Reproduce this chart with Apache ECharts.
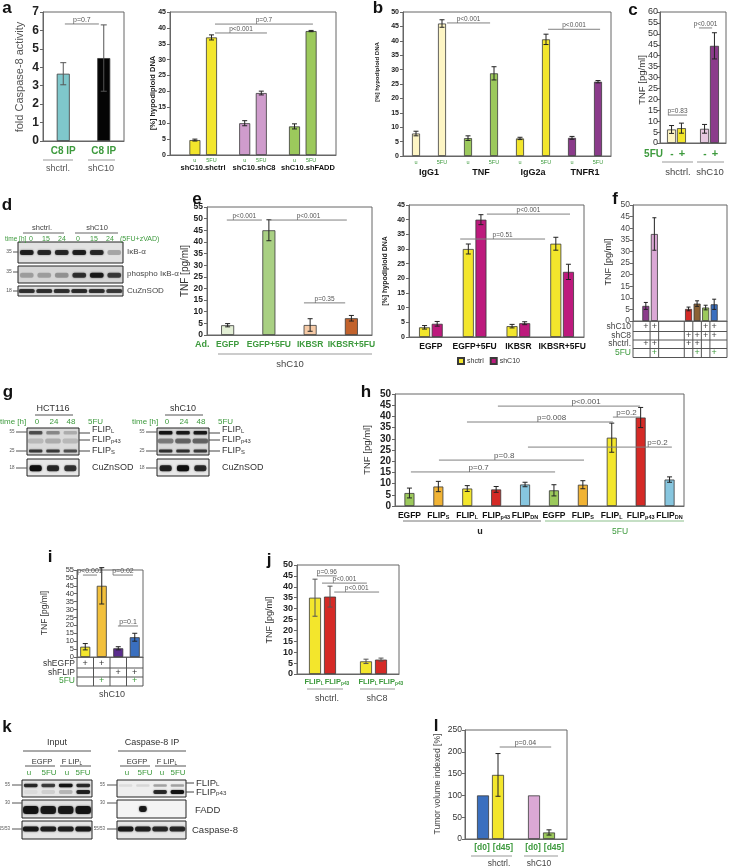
<!DOCTYPE html>
<html><head><meta charset="utf-8">
<script src="https://cdn.jsdelivr.net/npm/echarts@6/dist/echarts.min.js"></script>
<style>html,body{margin:0;padding:0;background:#fff}#c{width:729px;height:867px}</style>
</head><body><div id="c"></div>
<script>
// ================= DATA =================
// panel a (caspase-8 activity)
const aCats = ['C8 IP', 'C8 IP'];
const aVals = [3.65, 4.5];
const aErr = [0.6, 1.8];
const aGroups = ['shctrl.', 'shC10'];
const aBrackets = [[0.04, 0.88, 6.35, 'p=0.7']];
// panel a (hypodiploid DNA)
const a2Cats = ['', 'u', '5FU', '', 'u', '5FU', '', 'u', '5FU', ''];
const a2Vals = [null, 4.7, 37, null, 10, 19.5, null, 9, 39, null];
const a2Err = [null, 0.3, 0.8, null, 0.8, 0.6, null, 0.8, 0.2, null];
const a2Groups = ['shC10.shctrl', 'shC10.shC8', 'shC10.shFADD'];
const a2Brackets = [[2.21, 5.34, 38.4, 'p<0.001'], [2.21, 8.11, 41.2, 'p=0.7']];
// panel b
const bCats = ['u', '5FU', 'u', '5FU', 'u', '5FU', 'u', '5FU'];
const bVals = [7.8, 46, 6.2, 28.7, 6.1, 40.5, 6.3, 25.8];
const bErr = [0.8, 1.3, 0.8, 2.3, 0.4, 1.8, 0.5, 0.4];
const bGroups = ['IgG1', 'TNF', 'IgG2a', 'TNFR1'];
const bBrackets = [[1.19, 2.85, 46.2, 'p<0.001'], [5.08, 7.08, 44, 'p<0.001']];
// panel c
const cGroups = ['shctrl.', 'shC10'];
const cMinus = [6.2, 6.5];
const cMinusErr = [1.8, 2.0];
const cPlus = [6.8, 44.5];
const cPlusErr = [2.3, 6.0];
const cBrackets = [[-0.26, 0.32, 12.8, 'p=0.83'], [0.68, 1.08, 52.7, 'p<0.001']];
// panel d (blot band intensities, 6 lanes)
const dGroups = ['shctrl.', 'shC10'];
const dTimes = ['0', '15', '24', '0', '15', '24'];
const dIkB = [0.85, 0.8, 0.8, 0.85, 0.8, 0.25];
const dPIkB = [0.25, 0.25, 0.3, 0.75, 0.9, 0.7];
const dSOD = [0.75, 0.75, 0.75, 0.78, 0.75, 0.7];
// panel e left
const e1Cats = ['EGFP', 'EGFP+5FU', 'IKBSR', 'IKBSR+5FU'];
const e1Vals = [4.2, 45, 4.3, 7.2];
const e1Err = [0.7, 4.5, 2.7, 1.2];
const e1Brackets = [[-0.02, 0.83, 49.4, 'p<0.001'], [1.03, 2.89, 49.4, 'p<0.001'], [1.85, 2.85, 13.8, 'p=0.35']];
// panel e right
const e2Cats = ['EGFP', 'EGFP+5FU', 'IKBSR', 'IKBSR+5FU'];
const e2Shctrl = [3.3, 30, 3.7, 31.8];
const e2ShctrlErr = [0.6, 1.7, 0.6, 2.2];
const e2ShC10 = [4.5, 40, 4.7, 22.2];
const e2ShC10Err = [0.8, 1.7, 0.5, 2.6];
const e2Brackets = [[1.28, 3.18, 41.9, 'p<0.001'], [0.67, 2.61, 33.4, 'p=0.51']];
// panel f
const fCats = ['', 'c1', 'c2', '', '', '', 'c3', 'c4', 'c5', 'c6', ''];
const fVals = [null, 6.5, 37.5, null, null, null, 5.2, 7.5, 5.8, 7.2, null];
const fErr = [null, 1.5, 7, null, null, null, 0.8, 1.2, 1.0, 2.2, null];
const fRows = ['shC10', 'shC8', 'shctrl.', '5FU'];
const fTable = [
  [0, 1, 1, 0, 0, 0, 0, 0, 1, 1, 0],
  [0, 0, 0, 0, 0, 0, 1, 1, 1, 1, 0],
  [0, 1, 1, 0, 0, 0, 1, 1, 0, 0, 0],
  [0, 0, 1, 0, 0, 0, 0, 1, 0, 1, 0]];
// panel g (blots, 3 lanes)
const gTimes = ['0', '24', '48'];
const gHctFlipL = [0.6, 0.35, 0.2];
const gHctP43 = [0.15, 0.2, 0.15];
const gHctFlipS = [0.7, 0.7, 0.6];
const gHctSOD = [1.0, 0.8, 0.75];
const gC10FlipL = [0.95, 0.9, 0.9];
const gC10P43 = [0.4, 0.5, 0.5];
const gC10FlipS = [0.75, 0.75, 0.7];
const gC10SOD = [0.85, 1.0, 0.8];
// panel h
const hCats = ['EGFP', 'FLIPS', 'FLIPL', 'FLIPp43', 'FLIPDN', 'EGFP', 'FLIPS', 'FLIPL', 'FLIPp43', 'FLIPDN'];
const hVals = [5.8, 8.7, 7.8, 7.4, 9.6, 7.0, 9.5, 30.5, 39.5, 11.8];
const hErr = [2.2, 2.3, 1.3, 1.3, 1.0, 2.5, 1.8, 6.5, 4.5, 1.2];
const hBrackets = [
  [0.05, 5.04, 15.2, 'p=0.7', 0.47], [1.02, 6.04, 20.5, 'p=0.8', 0.45],
  [4.10, 9.08, 26.3, 'p=0.2', 0.9], [1.99, 7.04, 37.5, 'p=0.008', 0.58],
  [3.06, 7.98, 44.6, 'p<0.001', 0.62], [7.04, 7.98, 39.7, 'p=0.2', 0.5]];
// panel i
const iCats = ['1', '2', '3', '4'];
const iVals = [6.5, 45, 5.5, 12.5];
const iErr = [2, 11.5, 1, 2.5];
const iRows = ['shEGFP', 'shFLIP', '5FU'];
const iTable = [[1, 1, 0, 0], [0, 0, 1, 1], [0, 1, 0, 1]];
const iBrackets = [[-0.14, 0.71, 51.8, 'p<0.001'], [1.68, 2.89, 51.8, 'p=0.02'], [1.98, 3.2, 19.6, 'p=0.1']];
// panel j
const jGroups = ['shctrl.', 'shC8'];
const jFlipL = [35, 5.8];
const jFlipLErr = [8.5, 1.0];
const jP43 = [35.5, 6.6];
const jP43Err = [4.8, 0.7];
const jBrackets = [[-0.11, 0.28, 45, 'p=0.96'], [-0.01, 0.87, 41.7, 'p<0.001'], [0.23, 1.11, 37.6, 'p<0.001']];
// panel k (blots, 4 lanes)
const kInFlipL = [0.8, 0.7, 0.95, 0.8];
const kInP43 = [0.05, 0.1, 0.2, 0.85];
const kInFADD = [0.95, 0.9, 0.9, 0.95];
const kInC8 = [0.9, 0.85, 0.85, 0.9];
const kIpFlipL = [0.08, 0.1, 0.3, 0.3];
const kIpP43 = [0, 0, 0.8, 0.95];
const kIpFADD = [0, 0.9, 0, 0];
const kIpC8 = [0.9, 0.85, 0.8, 0.8];
// panel l
const lGroups = ['shctrl.', 'shC10'];
const lD0 = [100, 100];
const lD45 = [147, 15];
const lD45Err = [49, 6];
const lBrackets = [[0.18, 1.19, 211, 'p=0.04']];

// ================= STYLE / BUILD =================
const FONT = 'Arial, "Liberation Sans", sans-serif';
const GREEN = '#3d9a3d';
const C = {
  cyan: '#7fc7cb', yellow: '#f3e62c', lyellow: '#fdf5c4', pink: '#cf9ccc', green: '#9cc95c',
  purple: '#8b3b8b', magenta: '#bd1a7d', red: '#d52a26', orange: '#f1b334', lblue: '#87c6df',
  blue: '#3a6fbf', brown: '#8c6234', e1a: '#e3efd5', e1b: '#a9d083', e1c: '#f6caa6', e1d: '#c2622c',
  iorange: '#f2c03c', ipurple: '#5b2d8e', lpink: '#dba8d5', lpink2: '#e6c9e0'
};
const grids = [], xAxes = [], yAxes = [], series = [], G = [];

function T(x, y, text, o = {}) {
  G.push({type: 'text', x, y, rotation: o.rot || 0, z: 50, silent: true,
    style: {text, fill: o.color || '#333', fontSize: o.size || 9, fontWeight: o.bold ? 'bold' : 'normal',
      fontFamily: FONT, align: o.align || 'center', verticalAlign: 'middle', rich: o.rich}});
}
function SUB(x, y, base, sub, o = {}) {
  const s = o.size || 9;
  T(x, y, '{a|' + base + '}{s|' + sub + '}', Object.assign({}, o, {rich: {
    a: {fontSize: s, fontWeight: o.bold ? 'bold' : 'normal', fill: o.color || '#333', fontFamily: FONT},
    s: {fontSize: s * 0.65, fontWeight: o.bold ? 'bold' : 'normal', fill: o.color || '#333', fontFamily: FONT, padding: [s * 0.35, 0, 0, 0]}}}));
}
function L(x1, y1, x2, y2, color, w) {
  G.push({type: 'line', z: 49, silent: true, shape: {x1, y1, x2, y2}, style: {stroke: color || '#777', lineWidth: w || 1}});
}
function panel(o) {
  const gi = grids.length;
  const bc = o.border || '#555';
  grids.push({left: o.l, top: o.t, width: o.w, height: o.h, show: true, borderColor: bc, borderWidth: 1});
  xAxes.push({gridIndex: gi, type: 'category', data: o.cats, axisTick: {show: false},
    axisLine: {show: true, lineStyle: {color: bc}},
    axisLabel: o.xLab ? Object.assign({interval: 0, fontFamily: FONT, margin: 4, hideOverlap: false}, o.xLab) : {show: false}});
  yAxes.push({gridIndex: gi, type: 'value', min: 0, max: o.max, interval: o.int, splitLine: {show: false},
    axisLine: {show: true, lineStyle: {color: bc}},
    axisTick: {show: true, length: 3, lineStyle: {color: bc}},
    axisLabel: Object.assign({fontFamily: FONT, margin: 4, color: '#222', hideOverlap: false}, o.yLab)});
  return gi;
}
function bars(gi, vals, colors, o = {}) {
  const uni = typeof colors === 'string';
  series.push({type: 'bar', name: o.name, xAxisIndex: gi, yAxisIndex: gi, barWidth: o.bw, barGap: o.gap || '0%', z: 2, silent: true,
    itemStyle: Object.assign({borderColor: '#3a3a3a', borderWidth: 0.8}, uni ? {color: colors} : {}),
    data: vals.map((v, i) => v == null ? '-' : (uni ? v : {value: v, itemStyle: {color: colors[i]}}))});
}
function errs(gi, vals, er, o = {}) {
  const off = o.off || 0, col = o.color || '#222', cap = o.cap || 2.5;
  const data = [];
  vals.forEach((v, i) => { if (v != null && er[i] != null) data.push([i, v - er[i], v + er[i]]); });
  series.push({type: 'custom', xAxisIndex: gi, yAxisIndex: gi, z: 5, silent: true, clip: false, data, encode: {x: 0, y: [1, 2]},
    renderItem: (p, api) => {
      const lo = api.coord([api.value(0), api.value(1)]), hi = api.coord([api.value(0), api.value(2)]);
      const x = lo[0] + off, st = {stroke: col, lineWidth: 1};
      return {type: 'group', children: [
        {type: 'line', shape: {x1: x, y1: lo[1], x2: x, y2: hi[1]}, style: st},
        {type: 'line', shape: {x1: x - cap, y1: lo[1], x2: x + cap, y2: lo[1]}, style: st},
        {type: 'line', shape: {x1: x - cap, y1: hi[1], x2: x + cap, y2: hi[1]}, style: st}]};
    }});
}
function brackets(gi, list, o = {}) {
  series.push({type: 'custom', xAxisIndex: gi, yAxisIndex: gi, z: 6, silent: true, clip: false,
    data: list.map(b => [0, b[2]]), encode: {x: 0, y: 1},
    renderItem: (p, api) => {
      const b = list[p.dataIndex];
      const c = api.coord([0, b[2]]), band = api.size([1, 0])[0];
      const x1 = c[0] + b[0] * band, x2 = c[0] + b[1] * band, f = b[4] == null ? 0.5 : b[4];
      return {type: 'group', children: [
        {type: 'line', shape: {x1, y1: c[1], x2, y2: c[1]}, style: {stroke: '#808080', lineWidth: 1}},
        {type: 'text', x: x1 + (x2 - x1) * f, y: c[1] - 0.5, style: {text: b[3], fontSize: o.fs || 7, fontFamily: FONT,
          fill: '#555', align: 'center', verticalAlign: 'bottom'}}]};
    }});
}
function blot(box, nLanes, rows, o = {}) {
  const gi = grids.length;
  grids.push({left: box[0], top: box[1], width: box[2], height: box[3], show: true, borderColor: '#222', borderWidth: 1,
    backgroundColor: o.bg || '#e2e2e2'});
  xAxes.push({gridIndex: gi, type: 'category', data: Array.from({length: nLanes}, (_, i) => 'L' + i), show: false});
  yAxes.push({gridIndex: gi, type: 'value', min: 0, max: 1, inverse: true, show: false});
  rows.forEach(r => {
    series.push({type: 'custom', xAxisIndex: gi, yAxisIndex: gi, silent: true, z: 3,
      data: r.vals.map((v, i) => [i, r.y, v]), encode: {x: 0, y: 1},
      renderItem: (p, api) => {
        const c = api.coord([api.value(0), api.value(1)]);
        const bw = api.size([1, 0])[0] * (r.w || 0.78), v = api.value(2);
        if (v <= 0) return null;
        return {type: 'rect', shape: {x: c[0] - bw / 2, y: c[1] - r.h / 2, width: bw, height: r.h, r: r.h / 2.5},
          style: {fill: 'rgba(15,15,15,' + v + ')', shadowBlur: 2, shadowColor: 'rgba(15,15,15,' + (v * 0.8) + ')'}};
      }});
  });
}
const PL = (x, y, t) => T(x, y, t, {bold: true, size: 17, color: '#111'});

// ---------- panel a ----------
PL(7, 8, 'a');
let gi = panel({l: 43, t: 12, w: 81, h: 129, cats: aCats, max: 7, int: 1, border: '#666',
  yLab: {fontWeight: 'bold', fontSize: 12, color: '#222'},
  xLab: {color: GREEN, fontWeight: 'bold', fontSize: 10, margin: 5}});
bars(gi, aVals, [C.cyan, '#050505'], {bw: 13});
errs(gi, aVals, aErr, {color: '#555', cap: 3});
brackets(gi, aBrackets, {fs: 7});
T(20, 77, 'fold Caspase-8 activity', {rot: Math.PI / 2, size: 11, color: '#555'});
L(43, 160, 73, 160, '#999'); L(88, 160, 115, 160, '#999');
T(58, 169, aGroups[0], {size: 9, color: '#555'}); T(101, 169, aGroups[1], {size: 9, color: '#555'});

// ---------- panel a (hypodiploid) ----------
gi = panel({l: 170, t: 12, w: 166, h: 143, cats: a2Cats, max: 45, int: 5, border: '#666',
  yLab: {fontWeight: 'bold', fontSize: 7}, xLab: {color: GREEN, fontSize: 5.5, margin: 2}});
bars(gi, a2Vals, [null, C.yellow, C.yellow, null, C.pink, C.pink, null, C.green, C.green, null], {bw: 11});
errs(gi, a2Vals, a2Err, {cap: 2.5});
brackets(gi, a2Brackets, {fs: 6.5});
T(153, 93, '[%] hypodiploid DNA', {rot: Math.PI / 2, size: 7.5, bold: true, color: '#222'});
[203, 254, 308].forEach((x, k) => T(x, 168, a2Groups[k], {bold: true, size: 7.5, color: '#111'}));

// ---------- panel b ----------
PL(378, 8, 'b');
gi = panel({l: 403, t: 12, w: 208, h: 144, cats: bCats, max: 50, int: 5, border: '#666',
  yLab: {fontWeight: 'bold', fontSize: 7}, xLab: {color: GREEN, fontSize: 5.5, margin: 3}});
bars(gi, bVals, [C.lyellow, C.lyellow, C.green, C.green, C.yellow, C.yellow, C.purple, C.purple], {bw: 8});
errs(gi, bVals, bErr, {cap: 2.5});
brackets(gi, bBrackets, {fs: 6.5});
T(377, 72, '[%] hypodiploid DNA', {rot: Math.PI / 2, size: 6, bold: true, color: '#222'});
[429, 481, 533, 585].forEach((x, k) => T(x, 173, bGroups[k], {bold: true, size: 9, color: '#111'}));

// ---------- panel c ----------
PL(633, 10, 'c');
gi = panel({l: 660, t: 12, w: 66, h: 131, cats: cGroups, max: 60, int: 5, border: '#666',
  yLab: {fontSize: 9, color: '#333', margin: 2}});
bars(gi, cMinus, [C.lyellow, C.lpink2], {bw: 9, gap: '10%'});
bars(gi, cPlus, [C.yellow, C.purple], {bw: 9, gap: '10%'});
errs(gi, cMinus, cMinusErr, {off: -4.95, cap: 2.5});
errs(gi, cPlus, cPlusErr, {off: 4.95, cap: 2.5});
brackets(gi, cBrackets, {fs: 6.5});
T(642, 80, 'TNF [pg/ml]', {rot: Math.PI / 2, size: 9.5, color: '#333'});
T(663, 154, '5FU', {bold: true, size: 10, color: GREEN, align: 'right'});
[672, 705].forEach(x => T(x, 154, '-', {bold: true, size: 10, color: GREEN}));
[682, 715].forEach(x => T(x, 154, '+', {bold: true, size: 11, color: GREEN}));
L(662, 162, 693, 162, '#999'); L(697, 162, 724, 162, '#999');
T(678, 172, cGroups[0], {size: 9.5, color: '#444'}); T(710, 172, cGroups[1], {size: 9.5, color: '#444'});

// ---------- panel d ----------
PL(7, 205, 'd');
T(42, 228, dGroups[0], {size: 7.5, color: '#444'}); T(97, 228, dGroups[1], {size: 7.5, color: '#444'});
L(23, 233, 64, 233, '#666'); L(75, 233, 118, 233, '#666');
T(5, 239, 'time [h]', {size: 6.5, color: GREEN, align: 'left'});
[31, 46, 62, 78, 94, 110].forEach((x, k) => T(x, 239, dTimes[k], {size: 7, color: GREEN}));
T(120, 239, '(5FU+zVAD)', {size: 7, color: GREEN, align: 'left'});
blot([18, 242, 105, 21], 6, [{y: 0.5, h: 5, vals: dIkB}]);
blot([18, 266, 105, 17], 6, [{y: 0.55, h: 5, vals: dPIkB}], {bg: '#d6d6d6'});
blot([18, 286, 105, 10], 6, [{y: 0.5, h: 4, vals: dSOD, w: 0.9}]);
T(127, 252, 'IκB-α', {size: 8, color: '#444', align: 'left'});
T(127, 274, 'phospho IκB-α', {size: 8, color: '#444', align: 'left'});
T(127, 291, 'CuZnSOD', {size: 8, color: '#444', align: 'left'});
[[252, '35'], [272, '35'], [291, '18']].forEach(m => { T(9, m[0], m[1], {size: 5, color: '#555'}); L(13, m[0], 18, m[0], '#555'); });

// ---------- panel e (left) ----------
PL(197, 199, 'e');
gi = panel({l: 207, t: 207, w: 165, h: 128, cats: e1Cats, max: 55, int: 5, border: '#666',
  yLab: {fontWeight: 'bold', fontSize: 8.5},
  xLab: {color: GREEN, fontWeight: 'bold', fontSize: 8.5, margin: 5}});
bars(gi, e1Vals, [C.e1a, C.e1b, C.e1c, C.e1d], {bw: 13});
errs(gi, e1Vals, e1Err, {cap: 2.5});
brackets(gi, e1Brackets, {fs: 6.5});
T(185, 271, 'TNF [pg/ml]', {rot: Math.PI / 2, size: 10, color: '#333'});
T(195, 345, 'Ad.', {bold: true, size: 9, color: GREEN, align: 'left'});
L(218, 354, 372, 354, '#999');
T(290, 364, 'shC10', {size: 9.5, color: '#444'});

// ---------- panel e (right) ----------
gi = panel({l: 409, t: 205, w: 175, h: 132, cats: e2Cats, max: 45, int: 5, border: '#666',
  yLab: {fontWeight: 'bold', fontSize: 7},
  xLab: {color: '#111', fontWeight: 'bold', fontSize: 8.5, margin: 5}});
bars(gi, e2Shctrl, C.yellow, {bw: 11, gap: '15%', name: 'shctrl'});
bars(gi, e2ShC10, C.magenta, {bw: 11, gap: '15%', name: 'shC10'});
errs(gi, e2Shctrl, e2ShctrlErr, {off: -6.3, cap: 2.5});
errs(gi, e2ShC10, e2ShC10Err, {off: 6.3, cap: 2.5});
brackets(gi, e2Brackets, {fs: 6.5});
T(385, 271, '[%] hypodiploid DNA', {rot: Math.PI / 2, size: 7, bold: true, color: '#222'});

// ---------- panel f ----------
PL(615, 199, 'f');
gi = panel({l: 633, t: 205, w: 94, h: 116, cats: fCats, max: 50, int: 5, border: '#666',
  yLab: {fontSize: 8.5, color: '#444', margin: 3}});
bars(gi, fVals, [null, C.purple, C.lpink, null, null, null, C.red, C.brown, C.green, C.blue, null], {bw: 7});
errs(gi, fVals, fErr, {cap: 2});
T(609, 262, 'TNF [pg/ml]', {rot: Math.PI / 2, size: 9, color: '#333'});
(function () {
  const sw = 94 / fCats.length, rowY = [327, 336, 344, 353];
  [331.5, 340, 348.5, 357.5].forEach(y => L(633, y, 727, y, '#555'));
  L(633, 321, 633, 357.5, '#555'); L(727, 321, 727, 357.5, '#555');
  [2, 3, 6, 7, 8, 9].forEach(k => L(633 + k * sw, 321, 633 + k * sw, 357.5, '#555'));
  fRows.forEach((r, ri) => {
    const col = ri === 3 ? GREEN : '#444';
    T(631, rowY[ri], r, {size: 8.5, color: col, align: 'right'});
    fTable[ri].forEach((v, ci) => { if (v) T(633 + (ci + 0.5) * sw, rowY[ri], '+', {size: 9, color: col}); });
  });
})();

// ---------- panel g ----------
PL(8, 392, 'g');
function gBlock(x0, bx, label, lanes, fl, p43, fs, sod) {
  T(bx + 26, 409, label, {size: 9, color: '#333'});
  L(bx + 8, 415, bx + 46, 415, '#555');
  T(x0, 422, 'time [h]', {size: 8, color: GREEN, align: 'left'});
  [bx + 10, bx + 27, bx + 44].forEach((x, k) => T(x, 422, lanes[k], {size: 8, color: GREEN}));
  T(bx + 61, 422, '5FU', {size: 8, color: GREEN, align: 'left'});
  blot([bx, 428, 52, 27], 3, [{y: 0.18, h: 3.5, vals: fl}, {y: 0.48, h: 5, vals: p43, w: 0.9}, {y: 0.85, h: 3, vals: fs}], {bg: '#dadada'});
  blot([bx, 459, 52, 17], 3, [{y: 0.55, h: 6, vals: sod, w: 0.7}], {bg: '#e8e8e8'});
  L(bx + 52, 433, bx + 63, 433, '#444'); L(bx + 52, 440, bx + 63, 440, '#444'); L(bx + 52, 451, bx + 63, 451, '#444');
  SUB(bx + 65, 430, 'FLIP', 'L', {size: 9, color: '#333', align: 'left'});
  SUB(bx + 65, 440, 'FLIP', 'p43', {size: 9, color: '#333', align: 'left'});
  SUB(bx + 65, 451, 'FLIP', 'S', {size: 9, color: '#333', align: 'left'});
  T(bx + 65, 468, 'CuZnSOD', {size: 9, color: '#333', align: 'left'});
  [[432, '55'], [451, '25'], [468, '18']].forEach(m => { T(bx - 15, m[0], m[1], {size: 4.5, color: '#555'}); L(bx - 11, m[0], bx, m[0], '#555'); });
}
gBlock(0, 27, 'HCT116', gTimes, gHctFlipL, gHctP43, gHctFlipS, gHctSOD);
gBlock(132, 157, 'shC10', gTimes, gC10FlipL, gC10P43, gC10FlipS, gC10SOD);

// ---------- panel h ----------
PL(366, 392, 'h');
const subRich = {b: {fontWeight: 'bold', fontSize: 8.5, fontFamily: FONT, color: '#111'},
  s: {fontWeight: 'bold', fontSize: 5.5, fontFamily: FONT, color: '#111', padding: [3, 0, 0, 0]}};
gi = panel({l: 395, t: 394, w: 289, h: 112, cats: hCats, max: 50, int: 5, border: '#666',
  yLab: {fontWeight: 'bold', fontSize: 10},
  xLab: {margin: 5, rich: subRich,
    formatter: v => v.indexOf('FLIP') === 0 ? '{b|FLIP}{s|' + v.slice(4) + '}' : '{b|' + v + '}'}});
bars(gi, hVals, [C.green, C.orange, C.yellow, C.red, C.lblue, C.green, C.orange, C.yellow, C.red, C.lblue], {bw: 10});
errs(gi, hVals, hErr, {cap: 2.5});
brackets(gi, hBrackets, {fs: 8});
T(367, 450, 'TNF [pg/ml]', {rot: Math.PI / 2, size: 9.5, color: '#333'});
L(403, 521, 541, 521, '#777'); L(545, 521, 684, 521, '#8bbf8b');
T(480, 532, 'u', {bold: true, size: 9, color: '#222'});
T(620, 532, '5FU', {size: 8.5, color: GREEN});

// ---------- panel i ----------
PL(50, 557, 'i');
gi = panel({l: 77, t: 570, w: 66, h: 87, cats: iCats, max: 55, int: 5, border: '#666',
  yLab: {fontSize: 7.5, color: '#333', margin: 3}});
bars(gi, iVals, [C.yellow, C.iorange, C.ipurple, C.blue], {bw: 10});
errs(gi, iVals, iErr, {cap: 2.5});
brackets(gi, iBrackets, {fs: 7});
T(45, 613, 'TNF [pg/ml]', {rot: Math.PI / 2, size: 8.5, color: '#333'});
(function () {
  const cw = 66 / 4, rowY = [664, 672.5, 681];
  L(77, 686, 143, 686, '#555'); L(77, 668, 143, 668, '#555'); L(77, 677, 143, 677, '#555');
  for (let k = 0; k <= 4; k++) L(77 + k * cw, 657, 77 + k * cw, 686, '#555');
  iRows.forEach((r, ri) => {
    const col = ri === 2 ? GREEN : '#333';
    T(75, rowY[ri], r, {size: 8.5, color: col, align: 'right'});
    iTable[ri].forEach((v, ci) => { if (v) T(77 + (ci + 0.5) * cw, rowY[ri], '+', {size: 9, color: col}); });
  });
  T(112, 695, 'shC10', {size: 9, color: '#444'});
})();

// ---------- panel j ----------
PL(269, 560, 'j');
gi = panel({l: 297, t: 565, w: 102, h: 109, cats: jGroups, max: 50, int: 5, border: '#666',
  yLab: {fontWeight: 'bold', fontSize: 9}});
bars(gi, jFlipL, C.yellow, {bw: 12, gap: '25%'});
bars(gi, jP43, C.red, {bw: 12, gap: '25%'});
errs(gi, jFlipL, jFlipLErr, {off: -7.5, cap: 2.5, color: '#555'});
errs(gi, jP43, jP43Err, {off: 7.5, cap: 2.5, color: '#555'});
brackets(gi, jBrackets, {fs: 6.5});
T(270, 620, 'TNF [pg/ml]', {rot: Math.PI / 2, size: 9, color: '#333'});
[[314, 'L'], [337, 'p43'], [368, 'L'], [391, 'p43']].forEach(s => SUB(s[0], 682, 'FLIP', s[1], {bold: true, size: 7.5, color: GREEN}));
L(307, 689, 343, 689, '#999'); L(360, 689, 395, 689, '#999');
T(327, 699, jGroups[0], {size: 9, color: '#444'}); T(377, 699, jGroups[1], {size: 9, color: '#444'});

// ---------- panel k ----------
PL(7, 727, 'k');
function kHead(x0, title, lanesX) {
  T(x0 + 35, 743, title, {size: 9, color: '#333'});
  L(x0 + 1, 751, x0 + 69, 751, '#555');
  T(x0 + 20, 762, 'EGFP', {size: 7.5, color: '#333'});
  SUB(x0 + 50, 762, 'F LIP', 'L', {size: 7.5, color: '#333'});
  L(x0 + 3, 766, x0 + 33, 766, '#555'); L(x0 + 38, 766, x0 + 69, 766, '#555');
  ['u', '5FU', 'u', '5FU'].forEach((t, k) => T(lanesX[k], 773, t, {size: 8, color: GREEN}));
}
kHead(22, 'Input', [29, 49, 67, 83]);
kHead(117, 'Caspase-8 IP', [127, 145, 162, 178]);
blot([22, 780, 70, 17], 4, [{y: 0.32, h: 3.5, vals: kInFlipL}, {y: 0.7, h: 4, vals: kInP43}], {bg: '#e6e6e6'});
blot([22, 800, 70, 18], 4, [{y: 0.55, h: 8, vals: kInFADD, w: 0.88}], {bg: '#e0e0e0'});
blot([22, 821, 70, 18], 4, [{y: 0.45, h: 5, vals: kInC8, w: 0.9}], {bg: '#e6e6e6'});
blot([117, 780, 69, 17], 4, [{y: 0.32, h: 2.5, vals: kIpFlipL}, {y: 0.7, h: 4, vals: kIpP43}], {bg: '#eeeeee'});
blot([117, 800, 69, 18], 4, [{y: 0.5, h: 6, vals: kIpFADD, w: 0.45}], {bg: '#f4f4f4'});
blot([117, 821, 69, 18], 4, [{y: 0.45, h: 5, vals: kIpC8, w: 0.9}], {bg: '#e6e6e6'});
L(186, 783, 194, 783, '#444'); L(186, 792, 194, 792, '#444');
SUB(196, 783, 'FLIP', 'L', {size: 9.5, color: '#333', align: 'left'});
SUB(196, 792, 'FLIP', 'p43', {size: 9.5, color: '#333', align: 'left'});
T(195, 810, 'FADD', {size: 9.5, color: '#333', align: 'left'});
T(192, 830, 'Caspase-8', {size: 9.5, color: '#333', align: 'left'});
[[22, 785, '55'], [22, 803, '30'], [22, 829, '55/53'], [117, 785, '55'], [117, 803, '30'], [117, 829, '55/53']].forEach(m => {
  T(m[0] - 12, m[1], m[2], {size: 4.5, color: '#555', align: 'right'}); L(m[0] - 10, m[1], m[0], m[1], '#555');
});

// ---------- panel l ----------
PL(436, 726, 'l');
gi = panel({l: 465, t: 730, w: 102, h: 109, cats: lGroups, max: 250, int: 50, border: '#666',
  yLab: {fontSize: 8.5, color: '#333', margin: 3}});
bars(gi, lD0, [C.blue, C.lpink], {bw: 12, gap: '25%'});
bars(gi, lD45, [C.yellow, C.green], {bw: 12, gap: '25%'});
errs(gi, lD45, lD45Err, {off: 7.5, cap: 2.5});
brackets(gi, lBrackets, {fs: 7});
T(438, 784, 'Tumor volume indexed [%]', {rot: Math.PI / 2, size: 8.5, color: '#444'});
[[482, '[d0]'], [503, '[d45]'], [533, '[d0]'], [554, '[d45]']].forEach(s => T(s[0], 848, s[1], {bold: true, size: 8.5, color: GREEN}));
L(471, 856, 512, 856, '#999'); L(524, 856, 558, 856, '#999');
T(499, 864, lGroups[0], {size: 8.5, color: '#444'}); T(539, 864, lGroups[1], {size: 8.5, color: '#444'});

// ================= RENDER =================
const chart = echarts.init(document.getElementById('c'), null, {renderer: 'canvas', width: 729, height: 867});
chart.setOption({
  animation: false, backgroundColor: '#fff',
  textStyle: {fontFamily: FONT},
  legend: {data: ['shctrl', 'shC10'], left: 452, top: 352, itemWidth: 6, itemHeight: 6, itemGap: 6, icon: 'rect',
    textStyle: {fontSize: 7, color: '#333', fontFamily: FONT, padding: [0, 0, 0, -2]}},
  grid: grids, xAxis: xAxes, yAxis: yAxes, series, graphic: {elements: G}
});
</script></body></html>
